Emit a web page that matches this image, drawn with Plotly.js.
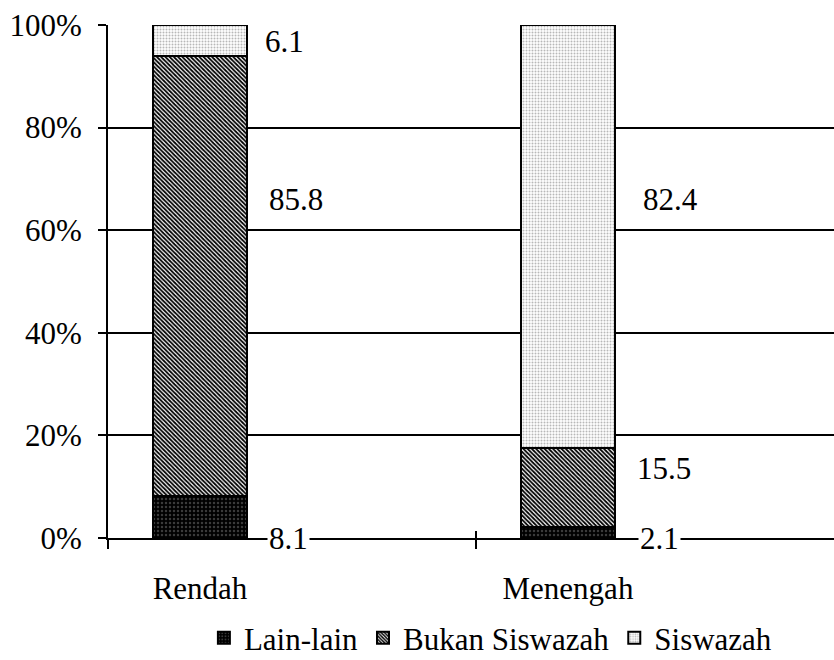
<!DOCTYPE html>
<html>
<head>
<meta charset="utf-8">
<script src="https://cdn.plot.ly/plotly-3.0.1.min.js"></script>
<style>html,body{margin:0;padding:0;background:#fff}#chart{width:834px;height:660px}</style>
</head>
<body>
<div id="chart"></div>
<script>
// ---- data ----
const categories = ["Rendah", "Menengah"];
const seriesNames = ["Lain-lain", "Bukan Siswazah", "Siswazah"];
const lainLain = [8.1, 2.1];
const bukanSiswazah = [85.8, 15.5];
const siswazah = [6.1, 82.4];
const yTicks = [0, 20, 40, 60, 80, 100];
const yTickText = ["0%", "20%", "40%", "60%", "80%", "100%"];

// ---- styles ----
const FONT = "Liberation Serif";
const FS = 31;
const patterns = [
  {shape: ".", bgcolor: "#000000", fgcolor: "#3a3a3a", size: 4, solidity: 0.3},
  {shape: "\\", bgcolor: "#ffffff", fgcolor: "#000000", size: 3, solidity: 0.6},
  {shape: ".", bgcolor: "#ffffff", fgcolor: "#b8b8b8", size: 3, solidity: 0.35}
];
const values = [lainLain, bukanSiswazah, siswazah];

const traces = values.map((v, i) => ({
  type: "bar",
  name: seriesNames[i],
  x: categories,
  y: v,
  width: 0.253,
  marker: {color: patterns[i].bgcolor, pattern: patterns[i], line: {color: "#000", width: 2}},
  hoverinfo: "skip"
}));

// label placement (offset from category centre in category units, y in %)
const labelDx = [[0.24, 0.26, 0.23], [0.25, 0.26, 0.28]]; // [category][series]
const labelY = [[0, 65.9, 96.7], [0, 13.5, 65.9]];
const annotations = [];
categories.forEach((c, ci) => {
  values.forEach((v, si) => {
    annotations.push({
      xref: "x", yref: "y",
      x: ci + labelDx[ci][si], y: labelY[ci][si],
      text: String(v[ci]), showarrow: false,
      xanchor: "center", yanchor: "middle",
      bgcolor: "#ffffff", borderpad: 1,
      font: {family: FONT, size: FS, color: "#000"}
    });
  });
});

const xr = [-0.25, 1.723];
const layout = {
  width: 834, height: 660,
  margin: {l: 108, r: 0, t: 25, b: 122, autoexpand: false},
  paper_bgcolor: "#fff", plot_bgcolor: "#fff",
  font: {family: FONT, size: FS, color: "#000"},
  barmode: "stack",
  showlegend: true,
  legend: {orientation: "h", xref: "container", x: 0.588, xanchor: "center",
           yref: "container", y: 0.033, yanchor: "middle",
           traceorder: "normal", font: {family: FONT, size: FS, color: "#000"},
           itemwidth: 30, tracegroupgap: 0},
  xaxis: {type: "category", range: xr, showgrid: false, zeroline: false, automargin: false,
          showline: true, linecolor: "#000", linewidth: 2, ticks: "",
          ticklabelstandoff: 22, tickfont: {family: FONT, size: FS, color: "#000"}},
  xaxis2: {overlaying: "x", anchor: "y", type: "linear", range: xr, tickvals: [-0.25, 0.75],
           ticks: "outside", ticklen: 10, tickwidth: 2, tickcolor: "#000", automargin: false,
           showticklabels: false, showgrid: false, zeroline: false, showline: false},
  xaxis3: {overlaying: "x", anchor: "y", type: "linear", range: xr, tickvals: [-0.25, 0.75],
           ticks: "inside", ticklen: 7, tickwidth: 2, tickcolor: "#000", automargin: false,
           showticklabels: false, showgrid: false, zeroline: false, showline: false},
  yaxis: {range: [0, 100], tickmode: "array", tickvals: yTicks, ticktext: yTickText, ticks: "outside",
          ticklen: 8, tickwidth: 2, tickcolor: "#000", automargin: false,
          showgrid: true, gridcolor: "#000", gridwidth: 2, zeroline: false,
          showline: true, linecolor: "#000", linewidth: 2,
          ticklabelstandoff: 10, tickfont: {family: FONT, size: FS, color: "#000"}},
  annotations: annotations
};

const tickTraces = ["x2", "x3"].map(ax => ({
  type: "scatter", x: [], y: [], xaxis: ax, yaxis: "y", showlegend: false, hoverinfo: "skip"
}));

Plotly.newPlot("chart", traces.concat(tickTraces), layout, {displayModeBar: false, staticPlot: true});
</script>
</body>
</html>
